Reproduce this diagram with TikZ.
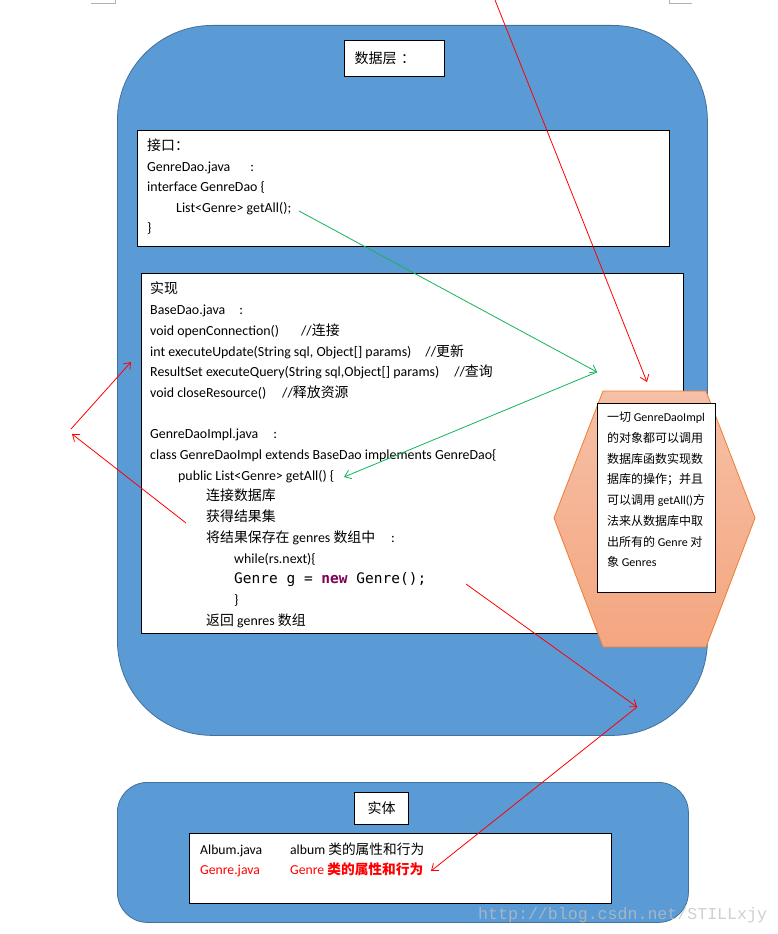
\documentclass[tikz,border=0pt]{standalone}
\usepackage{fontspec}
\usepackage{xcolor}
\usepackage{tikz}
\usetikzlibrary{arrows.meta}
\setmainfont{Carlito}
\newfontfamily\cjk{Noto Sans CJK SC}
\newfontfamily\codefont{DejaVu Sans Mono}
\newfontfamily\wmfont{Liberation Mono}
\definecolor{panelblue}{RGB}{91,155,213}
\definecolor{paneledge}{RGB}{65,113,156}
\definecolor{hexorange}{RGB}{237,125,49}
\definecolor{hextop}{RGB}{246,192,166}
\definecolor{hexbot}{RGB}{244,166,128}
\definecolor{kwpurple}{RGB}{127,0,85}
\definecolor{arrgreen}{RGB}{20,180,90}
\newcommand{\zh}[1]{{\cjk #1}}

\begin{document}
\begin{tikzpicture}[x=1pt, y=-1pt,
      panel/.style={draw=paneledge, fill=panelblue, line width=0.8pt, anchor=north west},
      codebox/.style={draw, fill=white, line width=1pt, anchor=north west},
      tagbox/.style={draw, fill=white, line width=1pt, font=\cjk\fontsize{14}{16}\selectfont},
      listtext/.style={anchor=north west, inner sep=0pt, align=left,
                       font=\fontsize{13.9}{20.7}\selectfont},
      notetext/.style={anchor=north west, inner sep=0pt, align=left,
                       font=\fontsize{12}{20.7}\selectfont},
      redarr/.style={draw=red, line width=0.8pt, -{Straight Barb[length=6pt,width=9pt]}},
      greenarr/.style={draw=arrgreen, line width=0.8pt, -{Straight Barb[length=6pt,width=9pt]}}]
    \useasboundingbox (0,0) rectangle (778,934);
    % page corner marks
    \draw[gray!60, line width=0.8pt] (91,3.5) -- (115,3.5) -- (115,0);
    \draw[gray!60, line width=0.8pt] (669,0) -- (669,3.5) -- (692,3.5);

    % data layer
    \node[panel, rounded corners=95pt, minimum width=590pt, minimum height=710pt] (datalayer) at (117,25) {};
    \node[tagbox, anchor=north west, minimum height=36pt, text width=80pt, inner xsep=10pt,
          align=left] (datatitle) at (344,40) {数据层 ：};

    \node[codebox, minimum width=532pt, minimum height=116pt] (iface) at (137,130) {};
    \node[listtext, font=\fontsize{13.9}{20.4}\selectfont] (ifacetxt) at (147,139) {%
      \zh{接口：}\\
      GenreDao.java\hspace{20pt}:\\
      interface GenreDao \{\\
      \hspace{29pt}List<Genre> getAll();\\
      \}};

    \node[codebox, minimum width=542pt, minimum height=360pt] (impl) at (141,273) {};
    \node[listtext] (impltxt) at (150,282) {%
      \zh{实现}\\
      BaseDao.java\hspace{14pt}:\\
      void openConnection()\hspace{22pt}//\zh{连接}\\
      int executeUpdate(String sql, Object[] params)\hspace{14pt}//\zh{更新}\\
      ResultSet executeQuery(String sql,Object[] params)\hspace{15pt}//\zh{查询}\\
      void closeResource()\hspace{16pt}//\zh{释放资源}\\[20.7pt]
      GenreDaoImpl.java\hspace{15pt}:\\
      class GenreDaoImpl extends BaseDao implements GenreDao\{\\
      \hspace{28pt}public List<Genre> getAll() \{\\
      \hspace{56pt}\zh{连接数据库}\\
      \hspace{56pt}\zh{获得结果集}\\
      \hspace{56pt}\zh{将结果保存在} genres \zh{数组中}\hspace{16pt}:\\
      \hspace{84pt}while(rs.next)\{\\
      \hspace{84pt}{\codefont\fontsize{14.5}{20.7}\selectfont Genre g = {\bfseries\color{kwpurple}new} Genre();}\\
      \hspace{84pt}\}\\
      \hspace{56pt}\zh{返回} genres \zh{数组}};

    % note on GenreDaoImpl
    \path[draw=hexorange, line width=0.8pt, top color=hextop, bottom color=hexbot]
      (603,391) -- (706,391) -- (755,518) -- (706,647) -- (603,647) -- (554,518) -- cycle;
    \node[codebox, minimum width=118pt, minimum height=189pt] (notebox) at (597,403) {};
    \node[notetext] (notetxt) at (607,412) {%
      \zh{一切} GenreDaoImpl\\
      \zh{的对象都可以调用}\\
      \zh{数据库函数实现数}\\
      \zh{据库的操作；并且}\\
      \zh{可以调用} getAll()\zh{方}\\
      \zh{法来从数据库中取}\\
      \zh{出所有的} Genre \zh{对}\\
      \zh{象} Genres};

    % entity layer
    \node[panel, rounded corners=30pt, minimum width=571pt, minimum height=140pt] (entitylayer) at (117,782) {};
    \node[tagbox, anchor=north west, minimum width=54pt, minimum height=32pt] (entitytitle) at (354,792) {实体};
    \node[codebox, minimum width=422pt, minimum height=70pt] (entbox) at (189,833) {};
    \node[listtext, font=\fontsize{13.7}{20}\selectfont] (enttxt) at (200,843) {%
      \makebox[90pt][l]{Album.java}album \zh{类的属性和行为}\\
      \textcolor{red}{\makebox[90pt][l]{Genre.java}Genre \zh{\bfseries 类的属性和行为}}};

    % connectors
    \coordinate (pagetop) at (495,0);
    \coordinate (hexhit) at (647,382);
    \coordinate (ifget) at (299,211);
    \coordinate (hub) at (597,372);
    \coordinate (implget) at (344,477);
    \coordinate (lefta) at (71,429);
    \coordinate (leftb) at (72,434);
    \coordinate (basedao) at (131,362);
    \coordinate (connect) at (186,523);
    \coordinate (newgenre) at (466,584);
    \coordinate (turn) at (637,707);
    \coordinate (genrerow) at (431,871);
    \draw[redarr] (pagetop) -- (hexhit);
    \draw[greenarr] (ifget) -- (hub);
    \draw[greenarr] (hub) -- (implget);
    \draw[redarr] (lefta) -- (basedao);
    \draw[redarr] (connect) -- (leftb);
    \draw[redarr] (newgenre) -- (turn);
    \draw[redarr] (turn) -- (genrerow);

    \node[anchor=west, inner sep=0pt, font=\wmfont\fontsize{16.6}{18}\selectfont,
          text=gray!50, text opacity=0.75] (mark) at (478,915) {http://blog.csdn.net/STILLxjy};
  \end{tikzpicture}
\end{document}
